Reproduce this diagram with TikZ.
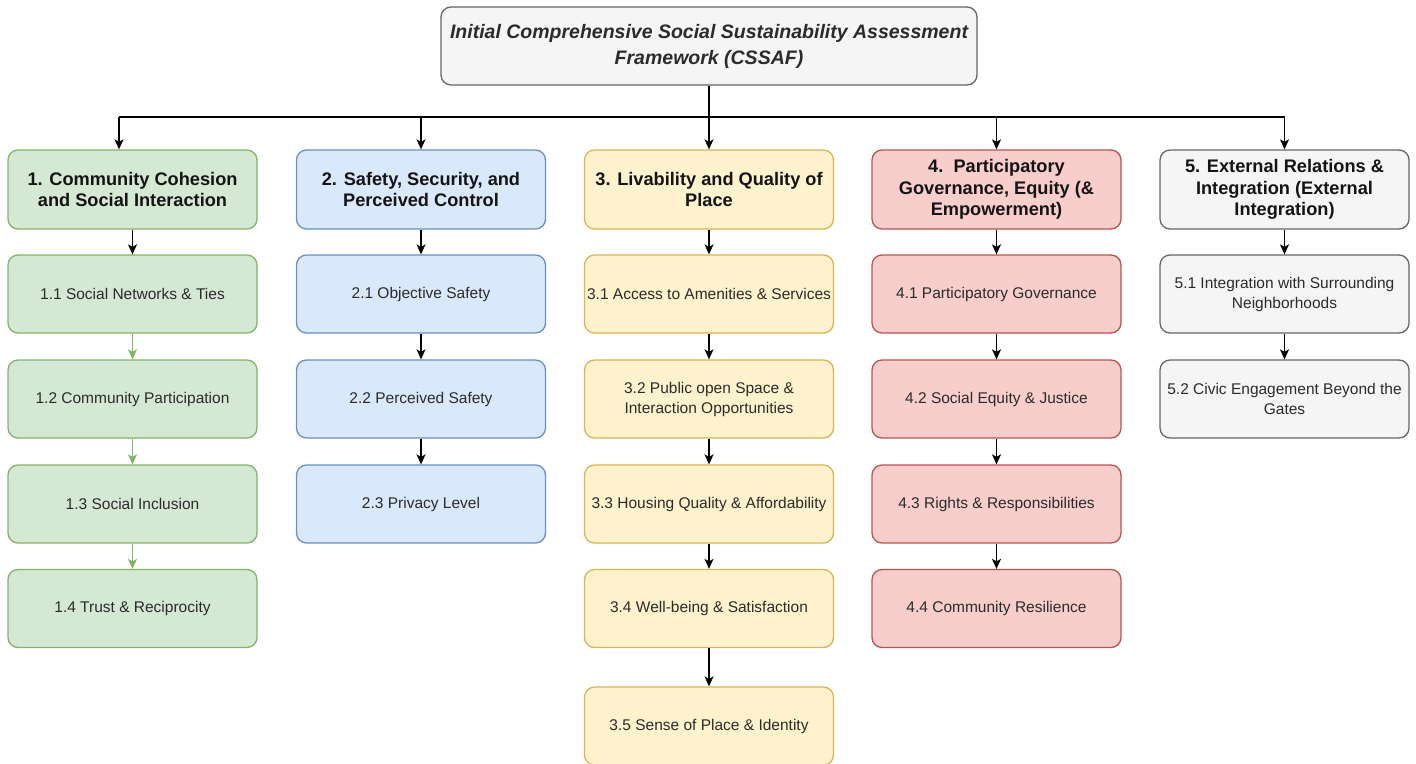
\documentclass[tikz,border=0pt]{standalone}
\usepackage{fontspec}
\setmainfont{Liberation Sans}
\usetikzlibrary{arrows.meta}

\definecolor{gfill}{HTML}{D5E8D4}\definecolor{gline}{HTML}{82B366}
\definecolor{bfill}{HTML}{DAE8FC}\definecolor{bline}{HTML}{6C8EBF}
\definecolor{yfill}{HTML}{FFF2CC}\definecolor{yline}{HTML}{D6B656}
\definecolor{rfill}{HTML}{F8CECC}\definecolor{rline}{HTML}{B85450}
\definecolor{kfill}{HTML}{F5F5F5}\definecolor{kline}{HTML}{666666}
\definecolor{bodytxt}{HTML}{2B2B2B}
\definecolor{headtxt}{HTML}{141414}

\tikzset{
  box/.style={rectangle, rounded corners=10pt, line width=1.3pt,
    minimum width=249pt, minimum height=78pt, inner sep=0pt, align=center},
  headbox/.style={box, minimum height=79pt, text=headtxt,
    font=\fontsize{18.2}{21.5}\selectfont\bfseries},
  itembox/.style={box, text=bodytxt, font=\fontsize{15.5}{20}\selectfont},
  green/.style={fill=gfill, draw=gline},
  blue/.style={fill=bfill, draw=bline},
  yellow/.style={fill=yfill, draw=yline},
  red/.style={fill=rfill, draw=rline},
  grey/.style={fill=kfill, draw=kline},
  link/.style={line width=1.3pt, draw=black,
    -{Stealth[length=10pt,width=9pt,inset=2.5pt]}},
  glink/.style={link, draw=gline, fill=gline},
  plain/.style={line width=1.3pt, draw=black}
}

\begin{document}
\begin{tikzpicture}[x=1pt,y=-1pt]
\useasboundingbox (0,0) rectangle (1416,763);

% framework title
\node[box, grey, minimum width=536pt, text=bodytxt,
  font=\fontsize{19.5}{26}\selectfont\bfseries\itshape]
  (top) at (709,46) {Initial Comprehensive Social Sustainability Assessment\\Framework (CSSAF)};

% dimension headers
\node[headbox, green]  (h1) at (132.5,189.5) {1. Community Cohesion\\and Social Interaction};
\node[headbox, blue]   (h2) at (421,189.5)   {2. Safety, Security, and\\Perceived Control};
\node[headbox, yellow] (h3) at (709,189.5)   {3. Livability and Quality of\\Place};
\node[headbox, red]    (h4) at (996.5,189.5) {4.\ \ Participatory\\Governance, Equity (\&\\Empowerment)};
\node[headbox, grey]   (h5) at (1284.5,189.5) {5. External Relations \&\\Integration (External\\Integration)};

% column 1
\node[itembox, green] (c11) at (132.5,294)   {1.1 Social Networks \& Ties};
\node[itembox, green] (c12) at (132.5,399)   {1.2 Community Participation};
\node[itembox, green] (c13) at (132.5,504)   {1.3 Social Inclusion};
\node[itembox, green] (c14) at (132.5,608.5) {1.4 Trust \& Reciprocity};

% column 2
\node[itembox, blue] (c21) at (421,294) {2.1 Objective Safety};
\node[itembox, blue] (c22) at (421,399) {2.2 Perceived Safety};
\node[itembox, blue] (c23) at (421,504) {2.3 Privacy Level};

% column 3
\node[itembox, yellow] (c31) at (709,294)   {3.1 Access to Amenities \& Services};
\node[itembox, yellow] (c32) at (709,399)   {3.2 Public open Space \&\\Interaction Opportunities};
\node[itembox, yellow] (c33) at (709,504)   {3.3 Housing Quality \& Affordability};
\node[itembox, yellow] (c34) at (709,608.5) {3.4 Well-being \& Satisfaction};
\node[itembox, yellow] (c35) at (709,726)   {3.5 Sense of Place \& Identity};

% column 4
\node[itembox, red] (c41) at (996.5,294)   {4.1 Participatory Governance};
\node[itembox, red] (c42) at (996.5,399)   {4.2 Social Equity \& Justice};
\node[itembox, red] (c43) at (996.5,504)   {4.3 Rights \& Responsibilities};
\node[itembox, red] (c44) at (996.5,608.5) {4.4 Community Resilience};

% column 5
\node[itembox, grey] (c51) at (1284.5,294) {5.1 Integration with Surrounding\\Neighborhoods};
\node[itembox, grey] (c52) at (1284.5,399) {5.2 Civic Engagement Beyond the\\Gates};

% distribution bus
\coordinate (busmid) at (top.south |- 0,117);
\coordinate (busL) at (119,117);
\coordinate (busR) at (h5.north |- 0,117);
\draw[plain] (top.south) -- (busmid);
\draw[plain] (busL) -- (busR);
\draw[link] (busL) -- (busL |- h1.north);
\draw[link] (h2.north |- busL) -- (h2.north);
\draw[link] (busmid) -- (h3.north);
\draw[link] (h4.north |- busL) -- (h4.north);
\draw[link] (busR) -- (h5.north);

% column links
\draw[link]  (h1) -- (c11);
\draw[glink] (c11) -- (c12);
\draw[glink] (c12) -- (c13);
\draw[glink] (c13) -- (c14);

\draw[link] (h2) -- (c21);
\draw[link] (c21) -- (c22);
\draw[link] (c22) -- (c23);

\draw[link] (h3) -- (c31);
\draw[link] (c31) -- (c32);
\draw[link] (c32) -- (c33);
\draw[link] (c33) -- (c34);
\draw[link] (c34) -- (c35);

\draw[link] (h4) -- (c41);
\draw[link] (c41) -- (c42);
\draw[link] (c42) -- (c43);
\draw[link] (c43) -- (c44);

\draw[link] (h5) -- (c51);
\draw[link] (c51) -- (c52);
\end{tikzpicture}
\end{document}
